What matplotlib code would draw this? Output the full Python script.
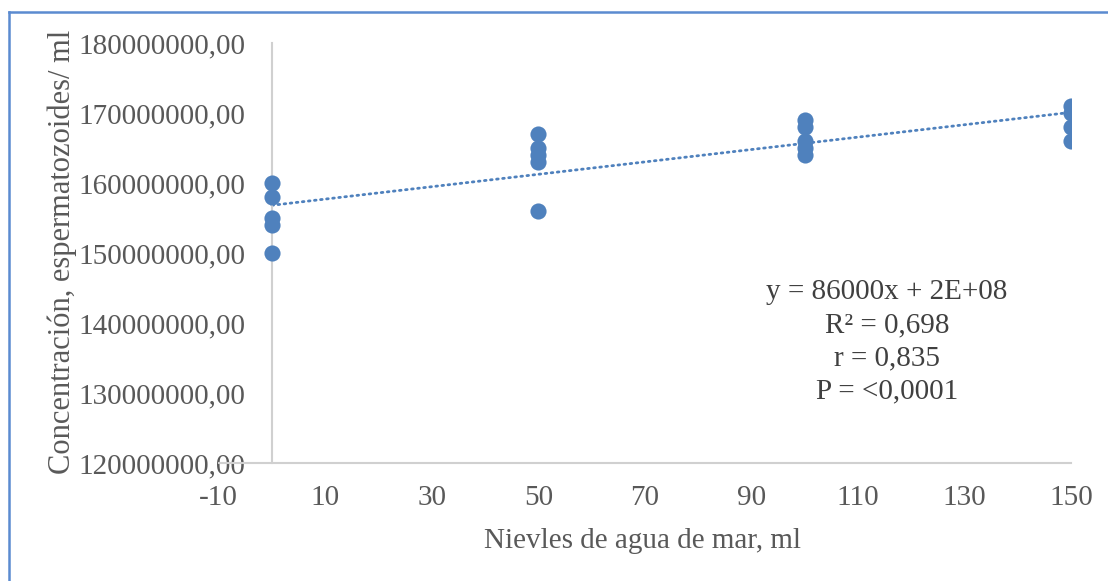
import matplotlib
matplotlib.use("Agg")
import matplotlib.pyplot as plt
import matplotlib.ticker as mticker
from matplotlib.lines import Line2D
import numpy as np

plt.rcParams.update({
    "font.family": ["Liberation Serif", "DejaVu Serif"],
    "font.size": 21,
    "axes.unicode_minus": False,
})

# data
x_levels = [0, 0, 0, 0, 0,
            50, 50, 50, 50, 50,
            100, 100, 100, 100, 100,
            150, 150, 150, 150]
conc = [160e6, 158e6, 155e6, 154e6, 150e6,
        167e6, 165e6, 164e6, 163e6, 156e6,
        169e6, 168e6, 166e6, 165e6, 164e6,
        171e6, 170e6, 168e6, 166e6]
x_ticks = [-10, 10, 30, 50, 70, 90, 110, 130, 150]
y_ticks = [120e6, 130e6, 140e6, 150e6, 160e6, 170e6, 180e6]
stats_lines = ["y = 86000x + 2E+08", "R\u00b2 = 0,698", "r = 0,835", "P = <0,0001"]

C_PT = "#4F81BD"
C_AX = "#D0D0D0"
C_TXT = "#595959"

W, H = 1108, 581
fig = plt.figure(figsize=(W / 100, H / 100), dpi=100)
ax = fig.add_axes([218.7 / W, 1 - 463 / H, (1071 - 218.7) / W, (463 - 43) / H])

xs = np.array(x_levels, dtype=float)
ys = np.array(conc)
ax.scatter(xs, ys, s=135, color=C_PT, zorder=3, linewidths=0)

# linear trend line
k, b = np.polyfit(xs, ys, 1)
xt = np.array([0, 150])
ax.plot(xt, k * xt + b, color=C_PT, lw=2.0, ls=(0, (0.6, 1.6)),
        dash_capstyle="round", zorder=2)

ax.set_xlim(-10, 150)
ax.set_ylim(120e6, 180e6)
ax.set_xticks(x_ticks)
ax.set_yticks(y_ticks)
ax.yaxis.set_major_formatter(mticker.FuncFormatter(lambda v, p: f"{v:.2f}".replace(".", ",")))

for s in ["top", "right"]:
    ax.spines[s].set_visible(False)
ax.spines["left"].set_position(("data", 0))
ax.spines["left"].set_color(C_AX)
ax.spines["left"].set_linewidth(1.5)
ax.spines["bottom"].set_color(C_AX)
ax.spines["bottom"].set_linewidth(1.5)
ax.tick_params(axis="both", length=0, colors=C_TXT, labelsize=21)
ax.tick_params(axis="y", pad=19)
ax.tick_params(axis="x", pad=16)
ax.set_facecolor("none")

fig.text(62 / W, 1 - 252 / H, "Concentración, espermatozoides/ ml", rotation=90,
         ha="center", va="center", color=C_TXT, fontsize=22)
fig.text(643 / W, 1 - 541 / H, "Nievles de agua de mar, ml",
         ha="center", va="center", color=C_TXT, fontsize=21)

for i, line in enumerate(stats_lines):
    fig.text(887 / W, 1 - (292 + 33 * i) / H, line, ha="center", va="center",
             color="#404040", fontsize=21)

# chart area border (left and top edges visible)
fig.add_artist(Line2D([9 / W, 9 / W], [0, 1 - 12 / H], color="#5B8BD0", lw=1.8,
                      transform=fig.transFigure))
fig.add_artist(Line2D([9 / W, 1], [1 - 12 / H, 1 - 12 / H], color="#5B8BD0", lw=1.8,
                      transform=fig.transFigure))

fig.savefig("out.png", dpi=100)
